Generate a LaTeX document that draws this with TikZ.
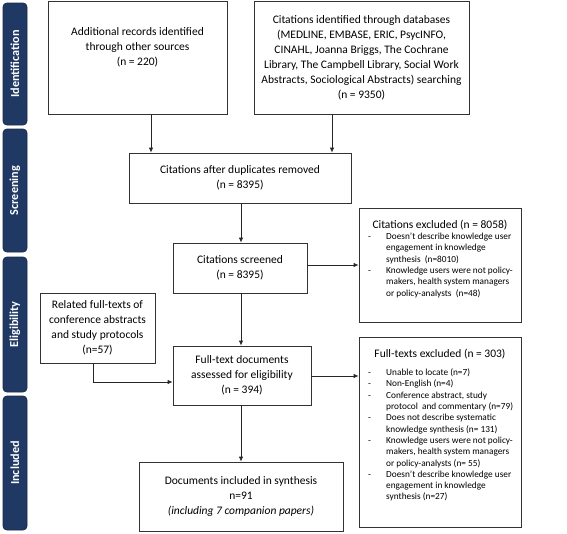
\documentclass[tikz,border=0pt]{standalone}
\usepackage{fontspec}
\setmainfont{Carlito}
\usetikzlibrary{arrows.meta,calc}
\definecolor{navy}{HTML}{1F3864}
\definecolor{navyedge}{HTML}{182A48}
\begin{document}
\begin{tikzpicture}[x=1pt,y=-1pt,
  box/.style={draw=black!80,line width=0.8pt,inner sep=0pt},
  txt/.style={align=center,font=\fontsize{11.5}{15}\selectfont},
  listtxt/.style={anchor=north west,inner sep=0pt,font=\fontsize{9.3}{11.3}\selectfont},
  arr/.style={draw=black!85,line width=0.8pt,-{Latex[length=5pt,width=4.5pt]}},
  side/.style={fill=navy,draw=navyedge,line width=0.8pt,rounded corners=4pt,rotate=90,
    minimum height=24pt,inner sep=0pt,text=white,font=\fontsize{12.2}{13}\selectfont\bfseries}]
\useasboundingbox (0,0) rectangle (567,533);

% stage bars
\node[side,minimum width=122pt] (s1) at (15,64) {Identification};
\node[side,minimum width=123pt] (s2) at (15,190.5) {Screening};
\node[side,minimum width=135pt] (s3) at (15,324.5) {Eligibility};
\node[side,minimum width=134pt] (s4) at (15,463) {Included};

% boxes
\node[box,minimum width=179pt,minimum height=113pt] (idA) at (137.5,57.5) {};
\node[txt] (idAt) at (137.5,47) {Additional records identified\\through other sources\\(n = 220)};

\node[box,txt,minimum width=215pt,minimum height=113pt] (idB) at (361.5,57.5)
  {Citations identified through databases\\(MEDLINE, EMBASE, ERIC, PsycINFO,\\CINAHL, Joanna Briggs, The Cochrane\\Library, The Campbell Library, Social Work\\Abstracts, Sociological Abstracts) searching\\(n = 9350)};

\node[box,txt,minimum width=222pt,minimum height=50pt] (dup) at (240,178)
  {Citations after duplicates removed\\(n = 8395)};

\node[box,txt,minimum width=134pt,minimum height=50pt] (scr) at (240,268)
  {Citations screened\\(n = 8395)};

\node[box,minimum width=162pt,minimum height=114pt] (excl1) at (440,265) {};
\node[txt] (ex1t) at (440,225) {Citations excluded (n = 8058)};
\node[listtxt] (ex1l) at (368,231.5) {\begin{tabular}{@{}p{18pt}@{}l@{}}
- & Doesn’t describe knowledge user\\
   & engagement in knowledge\\
   & synthesis \ (n=8010)\\
- & Knowledge users were not policy-\\
   & makers, health system managers\\
   & or policy-analysts \ (n=48)
\end{tabular}};

\node[box,txt,minimum width=115pt,minimum height=70pt] (rel) at (97.5,328)
  {Related full-texts of\\conference abstracts\\and study protocols\\(n=57)};

\node[box,txt,minimum width=138pt,minimum height=59pt] (ft) at (242,375.5)
  {Full-text documents\\assessed for eligibility\\(n = 394)};

\node[box,minimum width=162pt,minimum height=190pt] (excl2) at (440,432) {};
\node[txt] (ex2t) at (440,354) {Full-texts excluded (n = 303)};
\node[listtxt] (ex2l) at (368,367.5) {\begin{tabular}{@{}p{18pt}@{}l@{}}
- & Unable to locate (n=7)\\
- & Non-English (n=4)\\
- & Conference abstract, study\\
   & protocol \ and commentary (n=79)\\
- & Does not describe systematic\\
   & knowledge synthesis (n= 131)\\
- & Knowledge users were not policy-\\
   & makers, health system managers\\
   & or policy-analysts (n= 55)\\
- & Doesn’t describe knowledge user\\
   & engagement in knowledge\\
   & synthesis (n=27)
\end{tabular}};

\node[box,txt,minimum width=204pt,minimum height=69pt] (inc) at (241,496.5)
  {Documents included in synthesis\\n=91\\\textit{(including 7 companion papers)}};

% connectors
\coordinate (xa) at (151,0);
\coordinate (xb) at (332,0);
\coordinate (xm) at (241,0);
\coordinate (xr) at (93,0);
\coordinate (y1) at (0,265);
\coordinate (yr) at (0,382);
\coordinate (y2) at (0,376);

\draw[arr] (xa |- idA.south) -- (xa |- dup.north);
\draw[arr] (xb |- idB.south) -- (xb |- dup.north);
\draw[arr] (xm |- dup.south) -- (xm |- scr.north);
\draw[arr] (scr.east |- y1) -- (excl1.west |- y1);
\draw[arr] (xm |- scr.south) -- (xm |- ft.north);
\draw[arr] (xr |- rel.south) -- (xr |- yr) -- (ft.west |- yr);
\draw[arr] (ft.east |- y2) -- (excl2.west |- y2);
\draw[arr] (xm |- ft.south) -- (xm |- inc.north);
\end{tikzpicture}
\end{document}
